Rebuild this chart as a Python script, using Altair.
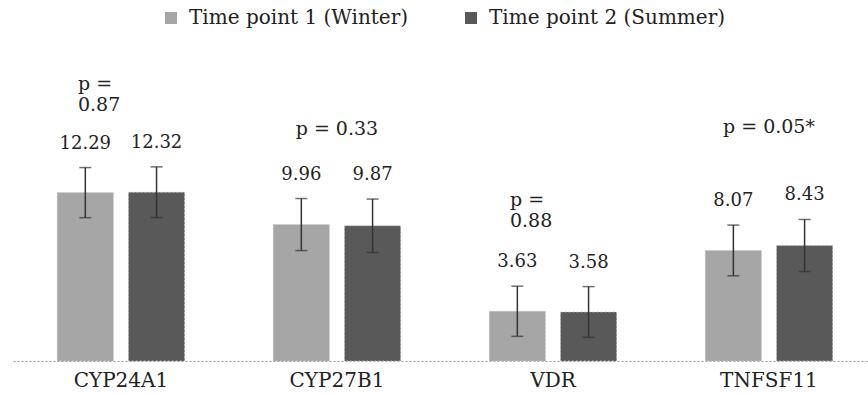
import altair as alt
import pandas as pd

# Gene expression means at the two time points
genes = ["CYP24A1", "CYP27B1", "VDR", "TNFSF11"]
series = ["Time point 1 (Winter)", "Time point 2 (Summer)"]
winter = [12.29, 9.96, 3.63, 8.07]
summer = [12.32, 9.87, 3.58, 8.43]
winter_err = [1.83, 1.9, 1.83, 1.85]
summer_err = [1.85, 1.95, 1.85, 1.9]
p_values = ["p =\n0.87", "p = 0.33", "p =\n0.88", "p = 0.05*"]

rows = []
for i, g in enumerate(genes):
    for s, vals, errs in ((series[0], winter, winter_err), (series[1], summer, summer_err)):
        v, e = vals[i], errs[i]
        rows.append({"gene": g, "series": s, "value": v, "lo": v - e, "hi": v + e,
                     "label": f"{v:.2f}"})
bars_df = pd.DataFrame(rows)

# heights (in data units) at which the p-value annotations sit
p_height = {"CYP24A1": 20.2, "CYP27B1": 16.9, "VDR": 11.75, "TNFSF11": 17.1}
p_df = pd.DataFrame({"gene": genes, "p": p_values,
                     "y": [p_height[g] for g in genes],
                     "multi": ["\n" in p for p in p_values]})

FONT = "DejaVu Serif"
TXT = "#222222"
colors = ["#a6a6a6", "#595959"]

x_enc = alt.X("gene:N", sort=genes, title=None,
              scale=alt.Scale(paddingInner=0.41, paddingOuter=0.184, align=0.556),
              axis=alt.Axis(labelFont=FONT, labelFontSize=20, labelColor=TXT,
                            labelPadding=9, ticks=False, domainColor="#9a9a9a",
                            domainDash=[2, 2], domainWidth=1.2, labelAngle=0))
xo_enc = alt.XOffset("series:N", sort=series,
                     scale=alt.Scale(paddingInner=0.211, paddingOuter=0))
y_scale = alt.Scale(domain=[0, 26.35], nice=False, zero=True)

base = alt.Chart(bars_df)

bars = base.mark_bar(stroke="#c8c8c8", strokeWidth=0.8, strokeDash=[2, 2]).encode(
    x=x_enc,
    xOffset=xo_enc,
    y=alt.Y("value:Q", scale=y_scale, axis=None),
    color=alt.Color("series:N", sort=series, title=None,
                    scale=alt.Scale(domain=series, range=colors),
                    legend=alt.Legend(orient="none", legendX=148, legendY=8,
                                      direction="horizontal", symbolType="square",
                                      symbolSize=144, symbolStrokeWidth=0,
                                      labelFont=FONT, labelFontSize=20,
                                      labelColor=TXT, labelOffset=8, labelLimit=500,
                                      columnPadding=52, padding=0)),
)

err = base.mark_rule(color="#333333", strokeWidth=1.5).encode(
    x=alt.X("gene:N", sort=genes),
    xOffset=alt.XOffset("series:N", sort=series),
    y=alt.Y("lo:Q", scale=y_scale),
    y2="hi:Q",
)
cap_hi = base.mark_tick(color="#333333", thickness=1.5, size=12).encode(
    x=alt.X("gene:N", sort=genes),
    xOffset=alt.XOffset("series:N", sort=series),
    y=alt.Y("hi:Q", scale=y_scale),
)
cap_lo = base.mark_tick(color="#333333", thickness=1.5, size=12).encode(
    x=alt.X("gene:N", sort=genes),
    xOffset=alt.XOffset("series:N", sort=series),
    y=alt.Y("lo:Q", scale=y_scale),
)

value_labels = base.mark_text(font=FONT, fontSize=18, color=TXT,
                              baseline="alphabetic", dy=-19).encode(
    x=alt.X("gene:N", sort=genes),
    xOffset=alt.XOffset("series:N", sort=series),
    y=alt.Y("hi:Q", scale=y_scale),
    text="label:N",
)

p_single = alt.Chart(p_df).transform_filter("!datum.multi").mark_text(
    font=FONT, fontSize=19, color=TXT, baseline="middle", align="center", dx=0
).encode(
    x=alt.X("gene:N", sort=genes),
    y=alt.Y("y:Q", scale=y_scale),
    text="p:N",
)
p_multi = alt.Chart(p_df).transform_filter("datum.multi").mark_text(
    font=FONT, fontSize=19, color=TXT, baseline="middle", align="left",
    dx=-43, lineBreak="\n", lineHeight=21
).encode(
    x=alt.X("gene:N", sort=genes),
    y=alt.Y("y:Q", scale=y_scale),
    text="p:N",
)

chart = alt.layer(bars, err, cap_hi, cap_lo, value_labels, p_single, p_multi).properties(
    width=855, height=361,
    padding={"left": 13, "top": 0, "right": 0, "bottom": 34},
    autosize=alt.AutoSizeParams(type="none"),
    background="white",
).configure_view(stroke=None)

chart.save("out.html", embed_options={"renderer": "svg", "actions": False})
